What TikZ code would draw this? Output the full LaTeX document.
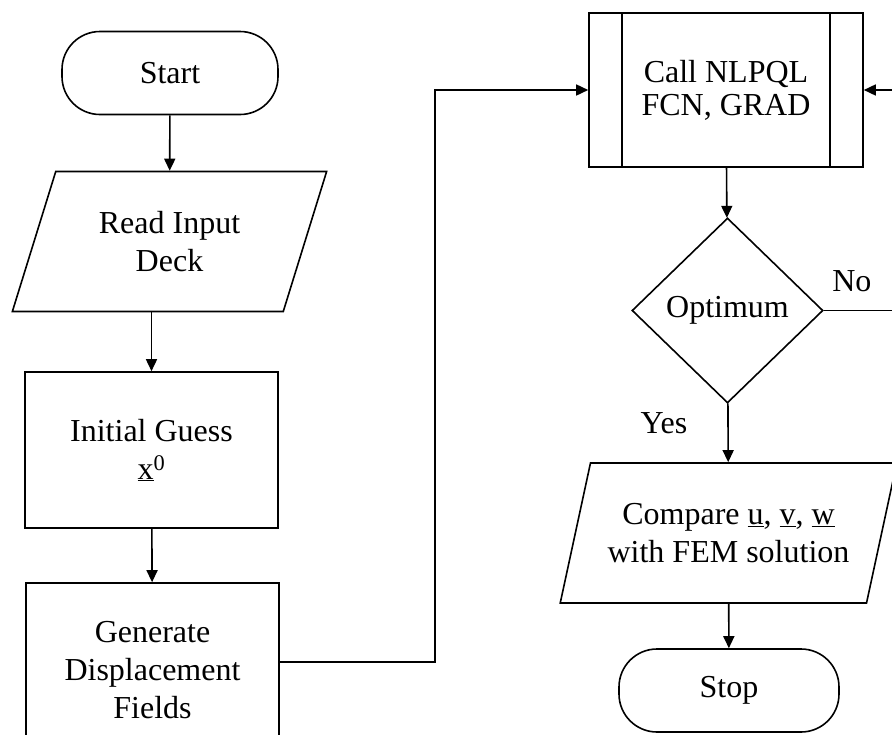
\documentclass[tikz,border=0pt]{standalone}
\usepackage{fontspec}
\setmainfont{Liberation Serif}
\usetikzlibrary{arrows.meta,shapes.geometric}

\begin{document}
\begin{tikzpicture}[
        x=1pt, y=-1pt,
        every node/.style={font=\fontsize{32}{38}\selectfont, align=center},
        terminal/.style={rectangle,draw,rounded corners=38pt,line width=1.6pt,minimum width=216pt,minimum height=83pt},
        process/.style={rectangle,draw,line width=1.6pt,minimum width=253pt},
        io/.style={trapezium,draw,line width=1.6pt,trapezium left angle=66,trapezium right angle=114,
                   trapezium stretches=true,minimum height=140pt,inner sep=0pt},
        decision/.style={diamond,draw,line width=1.6pt,minimum width=191pt,minimum height=185pt,inner sep=0pt},
        arrow/.style={-{Triangle[length=12pt,width=11pt]},line width=1.6pt},
        ]
        \useasboundingbox (0,0) rectangle (892,734);
        \clip (0,0) rectangle (892,734);

        % Left column : input
        \node[terminal] (start) at (170,73) {Start};
        \node[io, minimum width=315pt] (read) at (169.5,241.5) {Read Input\\Deck};
        \node[process, minimum height=156pt] (guess) at (151.5,450) {Initial Guess\\\underline{x}\textsuperscript{0}};
        \node[process, minimum height=174pt] (gen) at (152.5,670) {Generate\\Displacement\\Fields};

        % Right column : optimisation
        \node[rectangle,draw,line width=1.6pt,minimum width=274pt,minimum height=154pt] (call) at (726,90)
            {Call NLPQL\\[-5pt]FCN, GRAD};
        \draw[line width=1.6pt] ([xshift=34pt]call.north west) -- ([xshift=34pt]call.south west);
        \draw[line width=1.6pt] ([xshift=-34pt]call.north east) -- ([xshift=-34pt]call.south east);
        \node[decision] (opt) at (727.5,310.5) {Optimum};
        \node[io, minimum width=337pt] (cmp) at (728.5,533)
            {Compare \underline{u}, \underline{v}, \underline{w}\\with FEM solution};
        \node[terminal, minimum width=220pt] (stop) at (729,690.5) {Stop};

        % Connexions left column
        \draw[arrow] (start) -- (read);
        \draw[arrow] (guess.north |- read.south) -- (guess.north);
        \draw[arrow] (guess) -- (gen);
        \draw[arrow] ([yshift=8pt]gen.east) -| ([xshift=-153pt]call.west) -- (call.west);

        % Connexions right column
        \draw[arrow] (call) -- (opt);
        \draw[arrow] (opt) -- node[pos=0, xshift=-64pt, yshift=-20pt] (yes) {Yes} (cmp);
        \draw[arrow] (cmp) -- (stop);
        \draw[arrow] (opt.east) -- node[pos=0, xshift=28pt, yshift=29pt] (no) {No} ++(110,0) |- (call.east);
    \end{tikzpicture}
\end{document}
